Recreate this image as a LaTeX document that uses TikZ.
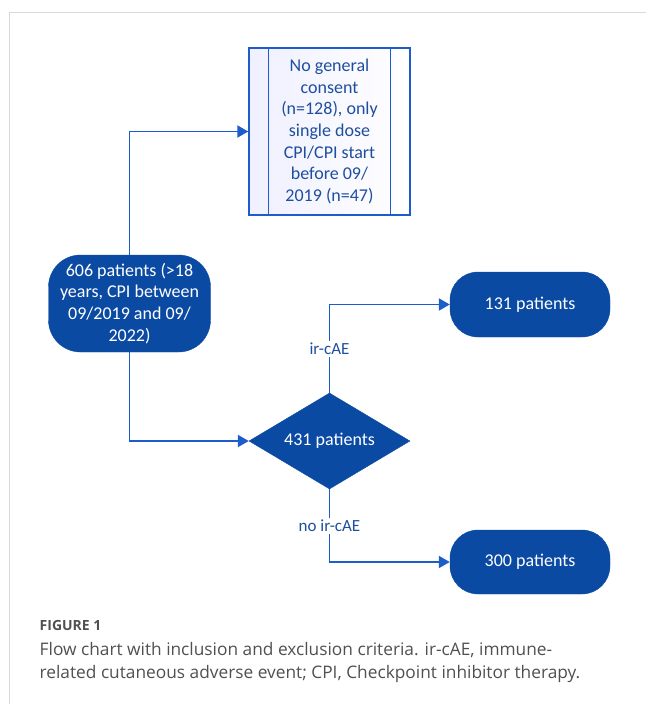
\documentclass[tikz,border=0pt]{standalone}
\usepackage{fontspec}
\setmainfont{Carlito}
\newfontfamily\capfont{Open Sans}
\usetikzlibrary{shapes.geometric,arrows.meta}
\definecolor{darkblue}{HTML}{0B4AA3}
\definecolor{lineblue}{HTML}{1C5CCB}
\definecolor{txtblue}{HTML}{1E4F9E}
\definecolor{capgray}{HTML}{505050}
\definecolor{framegray}{HTML}{D9D9D9}
\begin{document}
\begin{tikzpicture}[x=1pt,y=-1pt,
  term/.style={draw=darkblue,fill=darkblue,text=white,rounded corners=28pt,align=center,inner sep=0pt,font=\fontsize{18}{21.7}\selectfont},
  procbox/.style={draw=lineblue,line width=1.4pt,left color=blue!6,right color=white,text=txtblue,align=center,inner sep=0pt,font=\fontsize{18}{21.7}\selectfont},
  decide/.style={diamond,draw=darkblue,fill=darkblue,text=white,shape aspect=1.7,inner sep=0pt,font=\fontsize{18}{21.7}\selectfont},
  conn/.style={draw=lineblue,line width=1.9pt,-{Triangle[length=11pt,width=12pt]}},
  lab/.style={fill=white,text=txtblue,inner sep=2pt,font=\fontsize{17}{19}\selectfont}
]
\useasboundingbox (0,0) rectangle (646,704);
\draw[framegray,line width=0.8pt] (646,12) -- (9,12) -- (9,704);

\node[procbox,minimum width=161pt,minimum height=167pt] (excl) at (329.5,131.5)
  {No general\\consent\\(n=128), only\\single dose\\CPI/CPI start\\before 09/\\2019 (n=47)};
\draw[lineblue,line width=1.4pt] ([xshift=20pt]excl.north west) -- ([xshift=20pt]excl.south west);
\draw[lineblue,line width=1.4pt] ([xshift=-20pt]excl.north east) -- ([xshift=-20pt]excl.south east);

\node[term,minimum width=162pt,minimum height=97pt,rounded corners=32pt] (start) at (129.5,303.5)
  {606 patients (>18\\years, CPI between\\09/2019 and 09/\\2022)};

\node[decide,minimum width=161pt,minimum height=96pt] (dia) at (329.5,441) {431 patients};

\node[term,minimum width=160pt,minimum height=65pt] (n131) at (530,304.5) {131 patients};
\node[term,minimum width=160pt,minimum height=64pt] (n300) at (530,562) {300 patients};

\draw[conn] (start.north) |- (excl.west);
\draw[conn] (start.south) |- (dia.west);
\draw[conn] (dia.north) |- node[lab,pos=0.25] {ir-cAE} (n131.west);
\draw[conn] (dia.south) |- node[lab,pos=0.25] {no ir-cAE} (n300.west);

\node[anchor=base west,text=capgray,inner sep=0pt,font=\capfont\bfseries\fontsize{14}{16}\selectfont] (fig) at (39.5,630) {FIGURE 1};
\node[anchor=base west,text=capgray,inner sep=0pt,font=\capfont\fontsize{17.3}{20}\selectfont] (cap1) at (39.5,655)
  {Flow chart with inclusion and exclusion criteria. ir-cAE, immune-};
\node[anchor=base west,text=capgray,inner sep=0pt,font=\capfont\fontsize{17.3}{20}\selectfont] (cap2) at (39.5,678)
  {related cutaneous adverse event; CPI, Checkpoint inhibitor therapy.};
\end{tikzpicture}
\end{document}
